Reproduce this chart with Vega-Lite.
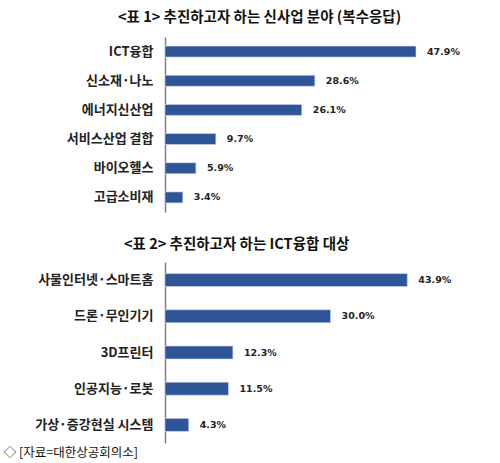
{
  "$schema": "https://vega.github.io/schema/vega-lite/v6.json",
  "padding": {"left": 3, "top": 9, "right": 0, "bottom": 0},
  "background": "white",
  "datasets": {
    "t1": [
      {"item": "ICT융합", "value": 47.9, "label": "47.9%"},
      {"item": "신소재·나노", "value": 28.6, "label": "28.6%"},
      {"item": "에너지신산업", "value": 26.1, "label": "26.1%"},
      {"item": "서비스산업 결합", "value": 9.7, "label": "9.7%"},
      {"item": "바이오헬스", "value": 5.9, "label": "5.9%"},
      {"item": "고급소비재", "value": 3.4, "label": "3.4%"}
    ],
    "t2": [
      {"item": "사물인터넷·스마트홈", "value": 43.9, "label": "43.9%"},
      {"item": "드론·무인기기", "value": 30.0, "label": "30.0%"},
      {"item": "3D프린터", "value": 12.3, "label": "12.3%"},
      {"item": "인공지능·로봇", "value": 11.5, "label": "11.5%"},
      {"item": "가상·증강현실 시스템", "value": 4.3, "label": "4.3%"}
    ]
  },
  "title": {
    "text": "◇ [자료=대한상공회의소]",
    "orient": "bottom",
    "anchor": "start",
    "frame": "bounds",
    "dx": -31,
    "font": "Noto Sans CJK KR",
    "fontSize": 12.5,
    "fontWeight": "normal",
    "color": "#111",
    "offset": 4
  },
  "spacing": 24,
  "vconcat": [
    {
      "width": 300,
      "height": 175,
      "data": {"name": "t1"},
      "title": {
        "text": "<표 1> 추진하고자 하는 신사업 분야 (복수응답)",
        "anchor": "start",
        "frame": "group",
        "dx": -47,
        "offset": 12,
        "font": "Noto Sans CJK KR",
        "fontSize": 14.5,
        "fontWeight": "bold",
        "color": "#111"
      },
      "encoding": {
        "y": {"field": "item", "type": "nominal", "sort": null, "axis": {"title": null}},
        "x": {"field": "value", "type": "quantitative", "scale": {"domain": [0, 57.25]}, "axis": null}
      },
      "layer": [
        {"mark": {"type": "bar", "size": 11, "color": "#2E5597", "stroke": "#d6def0", "strokeWidth": 0.6}},
        {"mark": {"type": "text", "align": "left", "dx": 11, "font": "DejaVu Sans", "fontWeight": "bold", "fontSize": 9.5, "color": "#222"}, "encoding": {"text": {"field": "label"}}}
      ]
    },
    {
      "width": 300,
      "height": 181,
      "data": {"name": "t2"},
      "title": {
        "text": "<표 2> 추진하고자 하는 ICT융합 대상",
        "anchor": "start",
        "frame": "group",
        "dx": -41,
        "offset": 10,
        "font": "Noto Sans CJK KR",
        "fontSize": 14.5,
        "fontWeight": "bold",
        "color": "#111"
      },
      "encoding": {
        "y": {"field": "item", "type": "nominal", "sort": null, "axis": {"title": null}},
        "x": {"field": "value", "type": "quantitative", "scale": {"domain": [0, 54.35]}, "axis": null}
      },
      "layer": [
        {"mark": {"type": "bar", "size": 13, "color": "#2E5597", "stroke": "#d6def0", "strokeWidth": 0.6}},
        {"mark": {"type": "text", "align": "left", "dx": 11, "font": "DejaVu Sans", "fontWeight": "bold", "fontSize": 9.5, "color": "#222"}, "encoding": {"text": {"field": "label"}}}
      ]
    }
  ],
  "config": {
    "view": {"stroke": null},
    "axisY": {
      "ticks": false,
      "grid": false,
      "domainColor": "#808080",
      "domainWidth": 1.5,
      "labelFont": "Noto Sans CJK KR",
      "labelFontWeight": "bold",
      "labelFontSize": 13,
      "labelColor": "#222",
      "labelPadding": 12,
      "labelLimit": 300
    }
  }
}
